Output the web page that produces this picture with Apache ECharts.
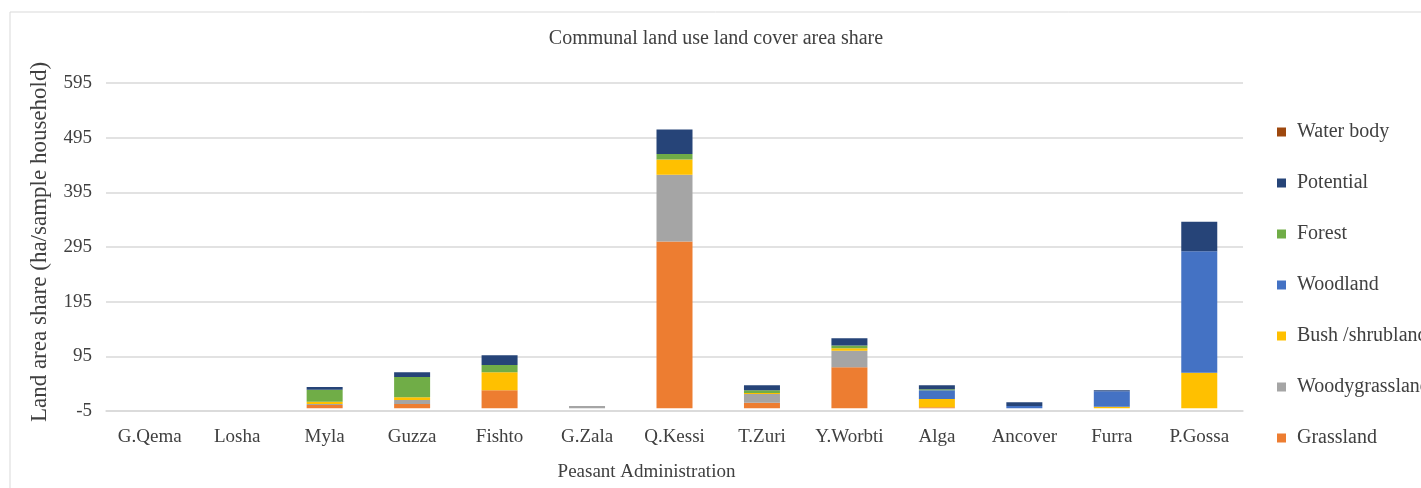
<!DOCTYPE html>
<html>
<head>
<meta charset="utf-8">
<script src="https://cdn.jsdelivr.net/npm/echarts@6/dist/echarts.min.js"></script>
<style>
  html, body { margin: 0; padding: 0; background: #fff; overflow: hidden; }
  #main { width: 1421px; height: 488px; }
</style>
</head>
<body>
<div id="main"></div>
<script>
// peasant administrations (x axis)
var places = ['G.Qema', 'Losha', 'Myla', 'Guzza', 'Fishto', 'G.Zala', 'Q.Kessi',
              'T.Zuri', 'Y.Worbti', 'Alga', 'Ancover', 'Furra', 'P.Gossa'];

// land cover area share, ha per sample household
var grassland      = [0, 0, 6, 8, 33, 0, 305, 10, 75, 2, 0, 0, 0];
var woodygrassland = [0, 0, 2, 7, 0, 4, 122, 16, 30, 0, 0, 0, 0];
var bushShrubland  = [0, 0, 4, 5, 33, 0, 28, 2, 5, 15, 0, 3, 65];
var woodland       = [0, 0, 0, 0, 0, 0, 0, 0, 0, 16, 4, 28, 222];
var forest         = [0, 0, 22, 37, 13, 0, 10, 5, 5, 2, 0, 0, 0];
var potential      = [0, 0, 5, 9, 18, 0, 45, 9, 13, 7, 7, 2, 54];
var waterBody      = [0, 0, 0, 0, 0, 0, 0, 0, 0, 0, 0, 0, 0];

// y axis ticks
var yTicks = [-5, 95, 195, 295, 395, 495, 595];

var font = 'Liberation Serif';
var txt = '#404040';

var seriesDefs = [
    { name: 'Grassland', data: grassland, color: '#ED7D31' },
    { name: 'Woodygrassland', data: woodygrassland, color: '#A5A5A5' },
    { name: 'Bush /shrubland', data: bushShrubland, color: '#FFC000' },
    { name: 'Woodland', data: woodland, color: '#4472C4' },
    { name: 'Forest', data: forest, color: '#70AD47' },
    { name: 'Potential', data: potential, color: '#264478' },
    { name: 'Water body', data: waterBody, color: '#9E480E' }
];

var chart = echarts.init(document.getElementById('main'));

chart.setOption({
    animation: false,
    backgroundColor: '#fff',
    title: {
        text: 'Communal land use land cover area share',
        left: 716,
        textAlign: 'center',
        top: 29,
        padding: 0,
        textStyle: { fontFamily: font, fontSize: 20, fontWeight: 'normal', color: txt }
    },
    graphic: [{
        type: 'polyline',
        shape: { points: [[10, 488], [10, 12], [1421, 12]] },
        style: { stroke: '#d9d9d9', lineWidth: 1, fill: null },
        silent: true
    }],
    legend: {
        orient: 'vertical',
        left: 1277,
        top: 122,
        padding: 0,
        itemWidth: 9,
        itemHeight: 9,
        itemGap: 31,
        icon: 'rect',
        data: ['Water body', 'Potential', 'Forest', 'Woodland', 'Bush /shrubland', 'Woodygrassland', 'Grassland'],
        textStyle: { fontFamily: font, fontSize: 20, lineHeight: 20, color: txt, padding: [0, 0, 0, 6] }
    },
    grid: { left: 106, right: 178, top: 83, bottom: 77 },
    xAxis: {
        type: 'category',
        data: places,
        name: 'Peasant Administration',
        nameLocation: 'middle',
        nameGap: 52,
        nameTextStyle: { fontFamily: font, fontSize: 19, color: txt, padding: [0, 56, 0, 0] },
        axisLine: { onZero: false, lineStyle: { color: '#d9d9d9', width: 1.5 } },
        axisTick: { show: false },
        axisLabel: { fontFamily: font, fontSize: 19, color: txt, margin: 17, interval: 0 }
    },
    yAxis: {
        type: 'value',
        min: -5,
        max: 595,
        name: 'Land area share (ha/sample household)',
        nameLocation: 'middle',
        nameGap: 55,
        nameTextStyle: { fontFamily: font, fontSize: 23, color: txt, padding: [0, 0, 0, 10] },
        axisLine: { show: false },
        axisTick: { show: false, customValues: yTicks },
        axisLabel: { fontFamily: font, fontSize: 19, color: txt, margin: 14, customValues: yTicks },
        splitLine: { lineStyle: { color: '#d9d9d9', width: 1.5 } }
    },
    series: seriesDefs.map(function (s) {
        return {
            name: s.name,
            type: 'bar',
            stack: 'area',
            barWidth: 36,
            data: s.data,
            itemStyle: { color: s.color }
        };
    })
});
</script>
</body>
</html>
